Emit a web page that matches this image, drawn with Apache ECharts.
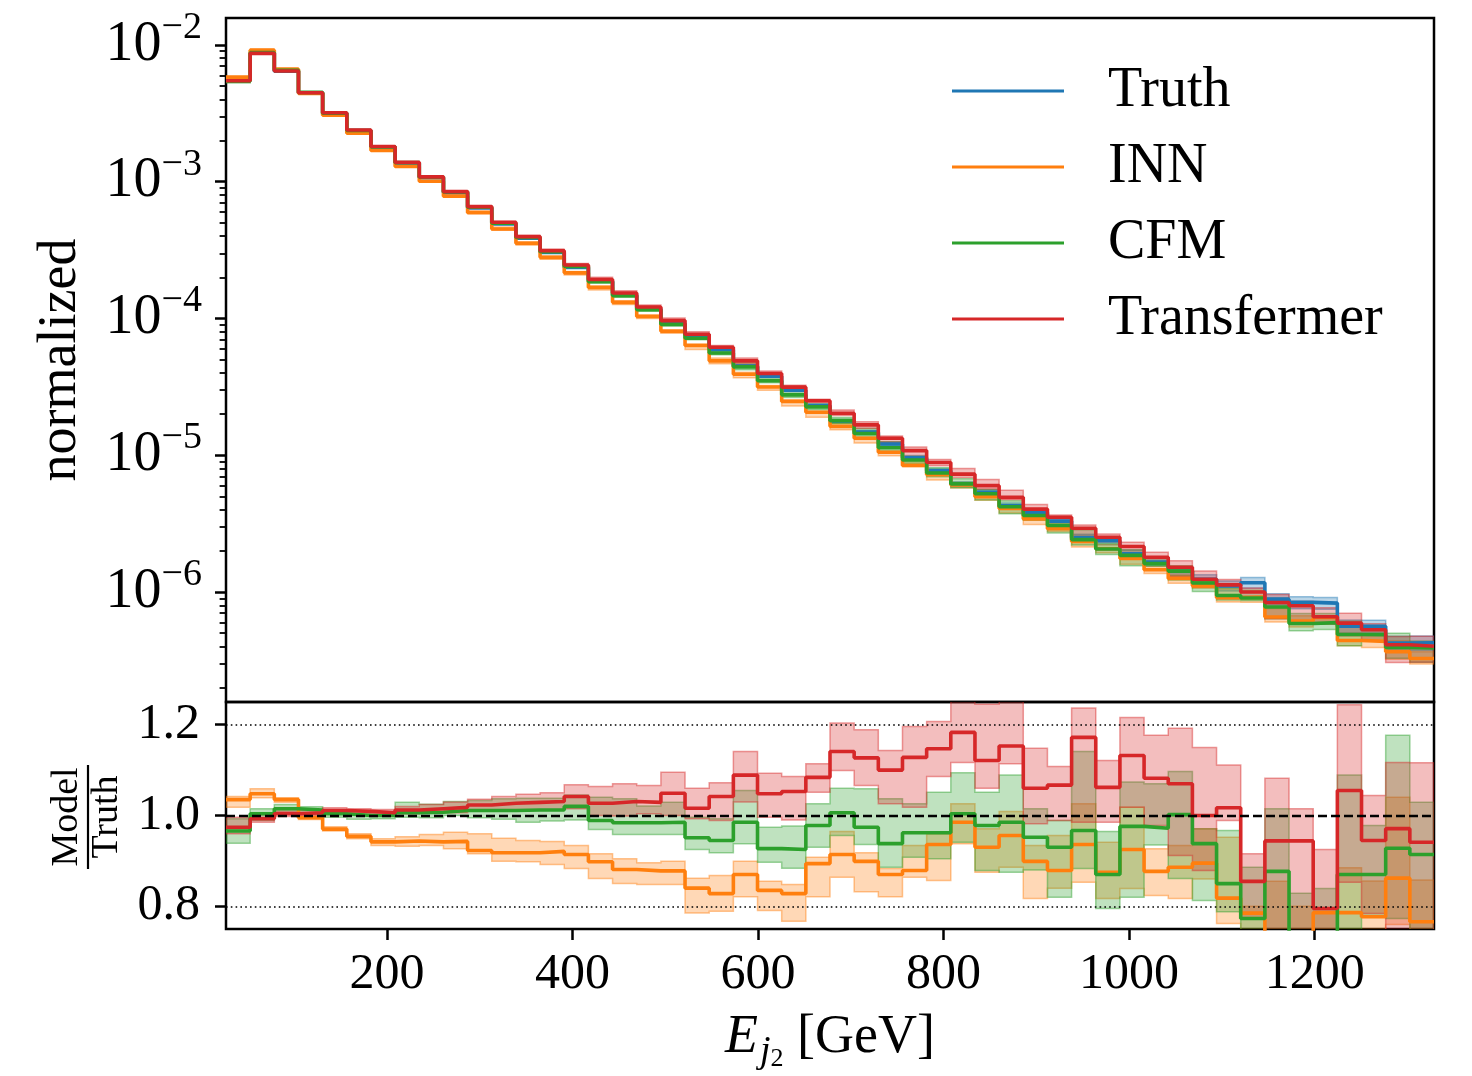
<!DOCTYPE html>
<html>
<head>
<meta charset="utf-8">
<script src="https://cdn.jsdelivr.net/npm/echarts@6/dist/echarts.min.js"></script>
<style>
    html, body { margin: 0; padding: 0; background: #fff; }
    #main { width: 1472px; height: 1076px; }
</style>
</head>
<body>
<div id="main"></div>
<script>
    // binning of E_j2 [GeV]
    var xMin = 26.6, binWidth = 26.04;

    // truth histogram (normalized)
    var truth = [5.62e-3, 8.75e-3, 6.43e-3, 4.45e-3, 3.16e-3, 2.37e-3, 1.80e-3, 1.37e-3, 1.07e-3, 8.32e-4,
        6.43e-4, 4.92e-4, 3.86e-4, 3.04e-4, 2.36e-4, 1.88e-4, 1.49e-4, 1.18e-4, 9.20e-5, 7.55e-5,
        5.92e-5, 4.50e-5, 3.78e-5, 2.99e-5, 2.31e-5, 1.78e-5, 1.48e-5, 1.21e-5, 9.59e-6, 7.71e-6,
        6.15e-6, 5.35e-6, 4.27e-6, 3.81e-6, 3.30e-6, 2.50e-6, 2.37e-6, 1.90e-6, 1.66e-6, 1.42e-6,
        1.24e-6, 1.11e-6, 1.17e-6, 8.87e-7, 8.40e-7, 8.30e-7, 5.62e-7, 5.61e-7, 4.24e-7, 4.26e-7];
    // relative uncertainty of truth
    var truthErr = [0.003, 0.003, 0.003, 0.003, 0.003, 0.004, 0.004, 0.004, 0.005, 0.005,
        0.006, 0.006, 0.007, 0.008, 0.009, 0.010, 0.011, 0.012, 0.013, 0.015,
        0.017, 0.019, 0.021, 0.023, 0.025, 0.028, 0.031, 0.034, 0.037, 0.040,
        0.043, 0.046, 0.050, 0.053, 0.056, 0.060, 0.064, 0.068, 0.072, 0.076,
        0.080, 0.085, 0.090, 0.095, 0.100, 0.100, 0.110, 0.110, 0.120, 0.120];

    // Model / Truth
    var innRatio = [1.035, 1.048, 1.035, 0.995, 0.970, 0.954, 0.942, 0.944, 0.942, 0.943,
        0.923, 0.918, 0.918, 0.921, 0.914, 0.898, 0.881, 0.878, 0.878, 0.840,
        0.828, 0.870, 0.835, 0.828, 0.894, 0.914, 0.899, 0.870, 0.879, 0.936,
        0.985, 0.930, 0.956, 0.899, 0.879, 0.936, 0.875, 0.925, 0.877, 0.886,
        0.895, 0.818, 0.785, 0.740, 0.730, 0.786, 0.786, 0.777, 0.862, 0.766];
    var innLo = [1.018, 1.039, 1.029, 0.991, 0.966, 0.949, 0.934, 0.932, 0.934, 0.927,
        0.916, 0.899, 0.898, 0.892, 0.883, 0.861, 0.850, 0.848, 0.848, 0.785,
        0.789, 0.821, 0.791, 0.767, 0.821, 0.864, 0.832, 0.821, 0.864, 0.857,
        0.938, 0.875, 0.886, 0.817, 0.840, 0.853, 0.817, 0.839, 0.824, 0.817,
        0.860, 0.762, 0.720, 0.680, 0.660, 0.720, 0.720, 0.700, 0.760, 0.700];
    var innHi = [1.042, 1.059, 1.039, 0.999, 0.975, 0.960, 0.949, 0.953, 0.958, 0.963,
        0.960, 0.950, 0.945, 0.943, 0.934, 0.916, 0.905, 0.896, 0.899, 0.862,
        0.868, 0.899, 0.855, 0.848, 0.908, 0.965, 0.918, 0.883, 0.934, 0.960,
        1.026, 0.971, 1.009, 0.934, 0.956, 1.026, 0.941, 1.018, 0.927, 0.934,
        0.971, 0.952, 0.800, 0.855, 0.800, 0.795, 0.885, 0.856, 1.040, 0.858];

    var cfmRatio = [0.966, 1.004, 1.015, 1.012, 1.004, 1.000, 1.000, 1.006, 1.007, 1.011,
        1.011, 1.011, 1.012, 1.012, 1.020, 0.989, 0.984, 0.984, 0.985, 0.951,
        0.945, 0.985, 0.927, 0.925, 0.978, 1.006, 0.974, 0.938, 0.962, 0.962,
        1.004, 0.978, 0.985, 0.952, 0.930, 0.967, 0.870, 0.976, 0.972, 1.002,
        0.938, 0.850, 0.773, 0.877, 0.700, 0.720, 0.870, 0.870, 0.928, 0.914];
    var cfmLo = [0.939, 0.989, 1.005, 1.003, 0.996, 0.992, 0.993, 0.996, 0.995, 1.000,
        0.995, 0.992, 0.985, 0.988, 0.990, 0.969, 0.958, 0.958, 0.958, 0.925,
        0.918, 0.938, 0.897, 0.884, 0.930, 0.956, 0.936, 0.886, 0.908, 0.905,
        0.941, 0.879, 0.875, 0.880, 0.820, 0.883, 0.795, 0.820, 0.935, 0.861,
        0.813, 0.788, 0.740, 0.720, 0.620, 0.640, 0.720, 0.777, 0.773, 0.720];
    var cfmHi = [0.993, 1.015, 1.024, 1.019, 1.012, 1.009, 1.008, 1.029, 1.025, 1.031,
        1.033, 1.037, 1.038, 1.038, 1.045, 1.040, 1.037, 1.021, 1.029, 0.996,
        0.993, 1.055, 0.974, 0.977, 1.026, 1.060, 1.059, 1.037, 1.026, 1.051,
        1.094, 1.051, 1.089, 1.015, 0.989, 1.141, 0.965, 1.074, 1.070, 1.097,
        0.971, 0.967, 0.886, 1.015, 0.829, 0.839, 1.089, 0.978, 1.177, 1.029];

    var trfRatio = [0.974, 0.993, 1.004, 1.006, 1.011, 1.009, 1.006, 1.012, 1.015, 1.018,
        1.023, 1.027, 1.029, 1.031, 1.042, 1.027, 1.031, 1.029, 1.049, 1.016,
        1.042, 1.089, 1.048, 1.053, 1.084, 1.141, 1.127, 1.100, 1.128, 1.147,
        1.183, 1.121, 1.153, 1.060, 1.067, 1.172, 1.062, 1.132, 1.082, 1.070,
        1.000, 1.017, 0.855, 0.944, 0.944, 0.795, 1.055, 0.945, 0.971, 0.941];
    var trfLo = [0.960, 0.985, 0.998, 1.000, 1.004, 1.002, 0.999, 1.004, 1.005, 1.006,
        1.010, 1.010, 1.012, 1.012, 1.015, 1.000, 0.999, 1.004, 1.000, 0.993,
        0.989, 1.030, 0.996, 0.990, 1.051, 1.099, 1.066, 1.026, 1.018, 1.086,
        1.117, 1.060, 1.114, 0.982, 0.989, 0.985, 0.985, 1.018, 0.978, 0.912,
        0.879, 0.989, 0.773, 0.720, 0.700, 0.700, 0.853, 0.784, 0.720, 0.720];
    var trfHi = [0.996, 1.003, 1.010, 1.012, 1.017, 1.015, 1.013, 1.020, 1.024, 1.030,
        1.036, 1.042, 1.047, 1.050, 1.068, 1.064, 1.070, 1.066, 1.095, 1.060,
        1.072, 1.141, 1.093, 1.086, 1.114, 1.204, 1.189, 1.143, 1.196, 1.207,
        1.300, 1.245, 1.300, 1.148, 1.108, 1.237, 1.121, 1.216, 1.177, 1.192,
        1.150, 1.111, 0.916, 1.082, 1.015, 0.925, 1.244, 1.044, 1.117, 1.116];

    // axis ticks
    var xTicks = [200, 400, 600, 800, 1000, 1200];
    var logTicks = [1e-6, 1e-5, 1e-4, 1e-3, 1e-2];
    var ratioTicks = [0.8, 1.0, 1.2];

    var colors = { truth: '#1f77b4', inn: '#ff7f0e', cfm: '#2ca02c', trf: '#d62728' };
    var font = "'Liberation Serif', 'DejaVu Serif', serif";

    var nBins = truth.length;
    var edges = [];
    for (var i = 0; i <= nBins; i++) edges.push(xMin + i * binWidth);
    var xMax = edges[nBins];

    // minor ticks of the log axis: 2..9 x 10^n
    var minorTicks = [];
    [-7, -6, -5, -4, -3, -2].forEach(function (p) {
        for (var k = 2; k <= 9; k++) minorTicks.push(k * Math.pow(10, p));
    });

    function scaled(base, r) {
        return base.map(function (v, i) { return v * r[i]; });
    }
    function stepData(vals) {
        var d = vals.map(function (v, i) { return [edges[i], v]; });
        d.push([edges[nBins], vals[nBins - 1]]);
        return d;
    }
    function rgba(hex, a) {
        var n = parseInt(hex.slice(1), 16);
        return 'rgba(' + (n >> 16) + ',' + ((n >> 8) & 255) + ',' + (n & 255) + ',' + a + ')';
    }
    function lineSeries(name, vals, color, xi, yi) {
        return {
            name: name, type: 'line', xAxisIndex: xi, yAxisIndex: yi,
            step: 'end', showSymbol: false, symbol: 'none', silent: true,
            color: color, lineStyle: { color: color, width: 3.6 },
            data: stepData(vals)
        };
    }
    function bandSeries(name, lo, hi, color, xi, yi) {
        return {
            name: name, type: 'custom', xAxisIndex: xi, yAxisIndex: yi,
            clip: true, silent: true,
            data: [[edges[0], lo[0]]],
            renderItem: function (params, api) {
                var up = [], dn = [];
                for (var i = 0; i < lo.length; i++) {
                    up.push(api.coord([edges[i], hi[i]]), api.coord([edges[i + 1], hi[i]]));
                    dn.push(api.coord([edges[i], lo[i]]), api.coord([edges[i + 1], lo[i]]));
                }
                return {
                    type: 'polygon',
                    shape: { points: up.concat(dn.reverse()) },
                    style: { fill: rgba(color, 0.3), stroke: rgba(color, 0.45), lineWidth: 1.5 }
                };
            }
        };
    }

    var truthLo = truth.map(function (v, i) { return v * (1 - truthErr[i]); });
    var truthHi = truth.map(function (v, i) { return v * (1 + truthErr[i]); });

    var series = [
        bandSeries('_tb', truthLo, truthHi, colors.truth, 0, 0),
        lineSeries('Truth', truth, colors.truth, 0, 0),
        bandSeries('_ib', scaled(truth, innLo), scaled(truth, innHi), colors.inn, 0, 0),
        lineSeries('INN', scaled(truth, innRatio), colors.inn, 0, 0),
        bandSeries('_cb', scaled(truth, cfmLo), scaled(truth, cfmHi), colors.cfm, 0, 0),
        lineSeries('CFM', scaled(truth, cfmRatio), colors.cfm, 0, 0),
        bandSeries('_rb', scaled(truth, trfLo), scaled(truth, trfHi), colors.trf, 0, 0),
        lineSeries('Transfermer', scaled(truth, trfRatio), colors.trf, 0, 0),

        bandSeries('_ib2', innLo, innHi, colors.inn, 1, 2),
        lineSeries('_i2', innRatio, colors.inn, 1, 2),
        bandSeries('_cb2', cfmLo, cfmHi, colors.cfm, 1, 2),
        lineSeries('_c2', cfmRatio, colors.cfm, 1, 2),
        bandSeries('_rb2', trfLo, trfHi, colors.trf, 1, 2),
        lineSeries('_r2', trfRatio, colors.trf, 1, 2),
        {
            name: '_ref', type: 'line', xAxisIndex: 1, yAxisIndex: 2, silent: true,
            showSymbol: false, lineStyle: { opacity: 0 }, data: [[xMin, 1]],
            markLine: {
                silent: true, symbol: 'none', label: { show: false }, animation: false,
                data: [
                    { yAxis: 1.2, lineStyle: { color: '#000', width: 1.6, type: [1.6, 3.2] } },
                    { yAxis: 1.0, lineStyle: { color: '#000', width: 2.4, type: [9, 4] } },
                    { yAxis: 0.8, lineStyle: { color: '#000', width: 1.6, type: [1.6, 3.2] } }
                ]
            }
        }
    ];

    var chart = echarts.init(document.getElementById('main'));
    var option = {
        animation: false,
        backgroundColor: '#fff',
        textStyle: { fontFamily: font },
        legend: {
            data: ['Truth', 'INN', 'CFM', 'Transfermer'],
            orient: 'vertical', left: 952, top: 63, padding: 0,
            icon: 'rect', itemWidth: 112, itemHeight: 3, itemGap: 20,
            selectedMode: false,
            textStyle: { fontFamily: font, fontSize: 56, lineHeight: 54, color: '#000', padding: [0, 0, 0, 39] }
        },
        grid: [
            { left: 226, right: 38, top: 18, height: 684, show: true, borderColor: '#000', borderWidth: 2.5, backgroundColor: 'transparent' },
            { left: 226, right: 38, top: 702, height: 227, show: true, borderColor: '#000', borderWidth: 2.5, backgroundColor: 'transparent' }
        ],
        xAxis: [
            {
                type: 'value', gridIndex: 0, min: xMin, max: xMax,
                axisLine: { show: false }, axisTick: { show: false }, axisLabel: { show: false }, splitLine: { show: false }
            },
            {
                type: 'value', gridIndex: 1, min: xMin, max: xMax,
                axisLine: { show: false }, splitLine: { show: false },
                axisTick: { show: true, customValues: xTicks, length: 11, lineStyle: { color: '#000', width: 2.5 } },
                axisLabel: {
                    customValues: xTicks, fontSize: 50, fontFamily: font, color: '#000', margin: 21,
                    formatter: function (v) { return String(v); }
                },
                name: '{i|E}{j|j}{t|2}{n| [GeV]}',
                nameLocation: 'middle', nameGap: 79,
                nameTextStyle: {
                    rich: {
                        i: { fontSize: 54, fontStyle: 'italic', fontFamily: font, color: '#000', lineHeight: 60 },
                        j: { fontSize: 38, fontStyle: 'italic', fontFamily: font, color: '#000', lineHeight: 38, verticalAlign: 'top', padding: [25, 0, 0, 2] },
                        t: { fontSize: 26, fontFamily: font, color: '#000', lineHeight: 26, verticalAlign: 'top', padding: [38, 0, 0, 0] },
                        n: { fontSize: 54, fontFamily: font, color: '#000', lineHeight: 60 }
                    }
                }
            }
        ],
        yAxis: [
            {
                type: 'log', gridIndex: 0, position: 'left', min: 1.57e-7, max: 1.575e-2,
                axisLine: { show: false }, splitLine: { show: false }, minorTick: { show: false },
                axisTick: { show: true, customValues: logTicks, length: 11, lineStyle: { color: '#000', width: 2.5 } },
                axisLabel: {
                    customValues: logTicks, margin: 24, color: '#000',
                    formatter: function (v) {
                        var n = Math.round(Math.log10(v));
                        return '{b|10}{s|' + (n < 0 ? '\u2212' : '') + Math.abs(n) + '}';
                    },
                    rich: {
                        b: { fontSize: 56, fontFamily: font, color: '#000', lineHeight: 72 },
                        s: { fontSize: 38, fontFamily: font, color: '#000', lineHeight: 38, verticalAlign: 'top' }
                    }
                },
                name: 'normalized', nameLocation: 'middle', nameRotate: 90, nameGap: 138,
                nameTextStyle: { fontSize: 54, fontFamily: font, color: '#000' }
            },
            {
                type: 'log', gridIndex: 0, position: 'left', offset: 0, min: 1.57e-7, max: 1.575e-2,
                axisLine: { show: false }, splitLine: { show: false }, axisLabel: { show: false },
                axisTick: { show: true, customValues: minorTicks, length: 6.4, lineStyle: { color: '#000', width: 1.8 } }
            },
            {
                type: 'value', gridIndex: 1, min: 0.75, max: 1.25,
                axisLine: { show: false }, splitLine: { show: false },
                axisTick: { show: true, customValues: ratioTicks, length: 11, lineStyle: { color: '#000', width: 2.5 } },
                axisLabel: {
                    customValues: ratioTicks, margin: 26, fontSize: 50, fontFamily: font, color: '#000',
                    formatter: function (v) { return v.toFixed(1); }
                }
            }
        ],
        graphic: [
            {
                type: 'group', x: 88, y: 817, rotation: Math.PI / 2,
                children: [
                    { type: 'text', x: 0, y: -21, style: { text: 'Model', fontSize: 38, fontFamily: font, fill: '#000', align: 'center', verticalAlign: 'middle' } },
                    { type: 'line', shape: { x1: -52, y1: 0, x2: 52, y2: 0 }, style: { stroke: '#000', lineWidth: 2.2 } },
                    { type: 'text', x: 0, y: 19, style: { text: 'Truth', fontSize: 38, fontFamily: font, fill: '#000', align: 'center', verticalAlign: 'middle' } }
                ]
            }
        ],
        series: series
    };
    chart.setOption(option);
</script>
</body>
</html>
